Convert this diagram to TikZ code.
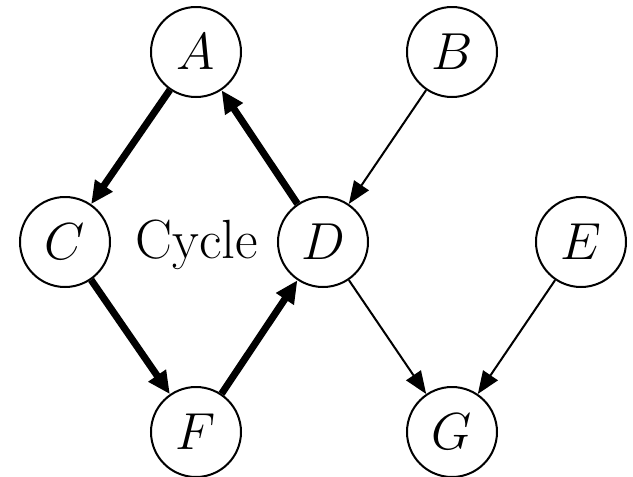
\documentclass[tikz,border=0pt]{standalone}
\usetikzlibrary{arrows.meta, positioning}

\begin{document}
\begin{tikzpicture}[
    vertex/.style={
      draw=black, circle, fill=white, minimum size=1.26cm, inner sep=0pt,
      line width=0.8pt, font=\fontsize{22}{26}\selectfont
    },
    edge/.style={-{Triangle[length=9pt, width=7pt]}, line width=0.8pt},
    cycleedge/.style={-{Triangle[length=9pt, width=8pt]}, line width=2.8pt},
    label/.style={font=\fontsize{22}{26}\selectfont}
  ]
  \useasboundingbox (0,0) rectangle (8.862,-6.678);

  \node[vertex] (A) at (2.744,-0.728) {$A$};
  \node[vertex] (B) at (6.328,-0.728) {$B$};
  \node[vertex] (C) at (0.91,-3.388) {$C$};
  \node[vertex] (D) at (4.522,-3.388) {$D$};
  \node[vertex] (E) at (8.134,-3.388) {$E$};
  \node[vertex] (F) at (2.744,-6.048) {$F$};
  \node[vertex] (G) at (6.328,-6.048) {$G$};

  \node[label] (cyc) at (2.758,-3.43) {Cycle};

  % cycle
  \draw[cycleedge] (A) -- (C);
  \draw[cycleedge] (C) -- (F);
  \draw[cycleedge] (F) -- (D);
  \draw[cycleedge] (D) -- (A);

  \draw[edge] (B) -- (D);
  \draw[edge] (D) -- (G);
  \draw[edge] (E) -- (G);
\end{tikzpicture}
\end{document}
